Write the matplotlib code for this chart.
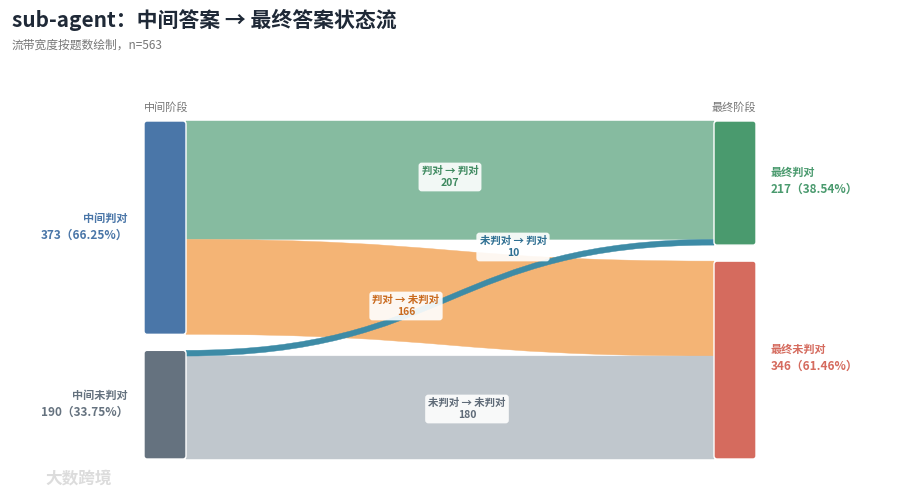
import matplotlib
matplotlib.use("Agg")
import matplotlib.pyplot as plt
from matplotlib.path import Path
from matplotlib.patches import PathPatch, FancyBboxPatch

plt.rcParams['font.family'] = ['Noto Sans CJK SC', 'DejaVu Sans']

# ---------------- data ----------------
title = "sub-agent：中间答案 → 最终答案状态流"
subtitle = "流带宽度按题数绘制，n=563"
stage_labels = ["中间阶段", "最终阶段"]
left_nodes = ["中间判对", "中间未判对"]
right_nodes = ["最终判对", "最终未判对"]
flow_src = [0, 0, 1, 1]
flow_dst = [0, 1, 0, 1]
flow_vals = [207, 166, 10, 180]
flow_names = ["判对 → 判对", "判对 → 未判对", "未判对 → 判对", "未判对 → 未判对"]

# ---------------- style / layout ----------------
left_colors = ["#4A76A8", "#65727F"]
right_colors = ["#4A9A6E", "#D56B5E"]
flow_colors = ["#86BBA0", "#F4B475", "#3D8BA6", "#C0C7CD"]
flow_text_colors = ["#3F8A60", "#C96A1E", "#2E6F92", "#5F6B78"]
label_pos = [(450, 177), (406, 306), (513, 247), (467, 409)]  # label anchor (px)
draw_order = [0, 1, 3, 2]

W, H = 900, 494
x_left, x_right, node_w = 144, 714, 42
top, bottom, gap = 121, 459, 16

fig = plt.figure(figsize=(9.0, 4.94), dpi=100)
ax = fig.add_axes([0, 0, 1, 1])
ax.set_xlim(0, W)
ax.set_ylim(H, 0)
ax.axis("off")

total = sum(flow_vals)
scale = (bottom - top - gap) / total

left_tot = [sum(v for s, v in zip(flow_src, flow_vals) if s == i) for i in range(2)]
right_tot = [sum(v for d, v in zip(flow_dst, flow_vals) if d == i) for i in range(2)]

def node_positions(tots):
    ys, y = [], top
    for t in tots:
        ys.append(y)
        y += t * scale + gap
    return ys

left_y = node_positions(left_tot)
right_y = node_positions(right_tot)

# flow positions within nodes (ordered by other end's index)
src_off = list(left_y)
dst_off = list(right_y)
flow_geom = [None] * len(flow_vals)
for i in sorted(range(len(flow_vals)), key=lambda k: (flow_src[k], flow_dst[k])):
    h = flow_vals[i] * scale
    s = flow_src[i]
    flow_geom[i] = [src_off[s], src_off[s] + h, None, None]
    src_off[s] += h
for i in sorted(range(len(flow_vals)), key=lambda k: (flow_dst[k], flow_src[k])):
    h = flow_vals[i] * scale
    d = flow_dst[i]
    flow_geom[i][2] = dst_off[d]
    flow_geom[i][3] = dst_off[d] + h
    dst_off[d] += h

x0 = x_left + node_w
x1 = x_right
xm = (x0 + x1) / 2
for i in draw_order:
    y0t, y0b, y1t, y1b = flow_geom[i]
    verts = [(x0, y0t), (xm, y0t), (xm, y1t), (x1, y1t),
             (x1, y1b), (xm, y1b), (xm, y0b), (x0, y0b), (x0, y0t)]
    codes = [Path.MOVETO, Path.CURVE4, Path.CURVE4, Path.CURVE4,
             Path.LINETO, Path.CURVE4, Path.CURVE4, Path.CURVE4, Path.CLOSEPOLY]
    ax.add_patch(PathPatch(Path(verts, codes), facecolor=flow_colors[i],
                           edgecolor=flow_colors[i], lw=0.3, zorder=2))

# nodes
for tots, ys, x, cols in [(left_tot, left_y, x_left, left_colors),
                           (right_tot, right_y, x_right, right_colors)]:
    for t, y, c in zip(tots, ys, cols):
        ax.add_patch(FancyBboxPatch((x, y), node_w, t * scale,
                                    boxstyle="round,pad=0,rounding_size=3",
                                    facecolor=c, edgecolor="white", lw=1.0, zorder=3))

# node labels
for name, t, y, c in zip(left_nodes, left_tot, left_y, left_colors):
    cy = y + t * scale / 2
    ax.text(128, cy - 9, name, ha="right", va="center", fontsize=8,
            color=c, fontweight="bold", zorder=5)
    ax.text(128, cy + 8, f"{t}（{t / total * 100:.2f}%）", ha="right", va="center",
            fontsize=8.5, color=c, fontweight="bold", zorder=5)
for name, t, y, c in zip(right_nodes, right_tot, right_y, right_colors):
    cy = y + t * scale / 2 - 2
    ax.text(771, cy - 9, name, ha="left", va="center", fontsize=8,
            color=c, fontweight="bold", zorder=5)
    ax.text(771, cy + 8, f"{t}（{t / total * 100:.2f}%）", ha="left", va="center",
            fontsize=8.5, color=c, fontweight="bold", zorder=5)

# stage labels
ax.text(x_left, 107, stage_labels[0], ha="left", va="center", fontsize=8, color="#777777")
ax.text(x_right + node_w, 107, stage_labels[1], ha="right", va="center", fontsize=8, color="#777777")

# flow labels
for i, (lx, ly) in enumerate(label_pos):
    ax.text(lx, ly, f"{flow_names[i]}\n{flow_vals[i]}", ha="center", va="center",
            fontsize=7.5, color=flow_text_colors[i], fontweight="bold",
            linespacing=1.3, zorder=6,
            bbox=dict(boxstyle="round,pad=0.3,rounding_size=0.3", facecolor="white",
                      edgecolor="none", alpha=0.9))

# titles
fig.text(12 / W, 1 - 20 / H, title, ha="left", va="center", fontsize=15,
         fontweight="bold", color="#1f2937")
fig.text(12 / W, 1 - 45 / H, subtitle, ha="left", va="center", fontsize=8.5, color="#777777")

# watermark
fig.text(45 / W, 1 - 478 / H, "大数跨境", ha="left", va="center", fontsize=12,
         color="#dcdcdc", fontweight="bold")

fig.savefig("out.png", dpi=100, facecolor="white")
